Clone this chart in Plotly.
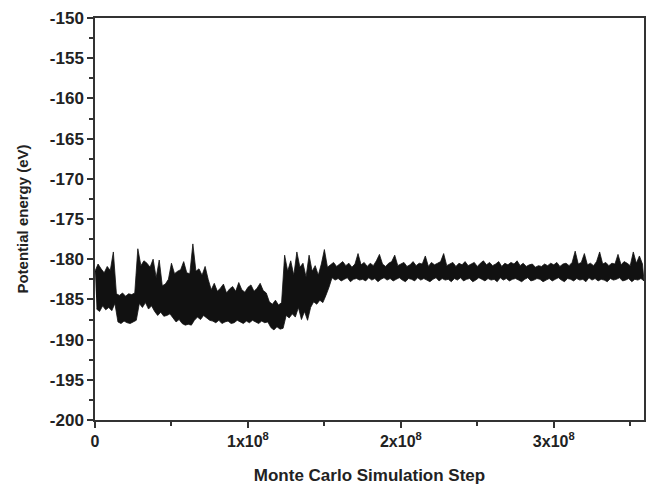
import plotly.graph_objects as go

# Sampling step of the envelope readings (MC steps)
step = 2e6

# Upper and lower envelope of the potential-energy trace (eV), read per step
upper = [
    -181.5, -180.6, -181.2, -181.7, -180.9, -181.4, -179.1,
    -184.3, -184.5, -184.2, -184.6, -184.3, -184.4, -184.2,
    -178.7, -180.8, -180.2, -180.5, -181.0,
    -180.0, -182.3, -180.1, -183.3, -183.1, -182.5,
    -180.5, -181.8, -181.5, -181.3, -180.3, -181.7,
    -181.8, -178.1, -181.5, -181.2, -182.0, -180.9, -182.5,
    -183.8, -183.0, -184.0, -183.6, -183.1, -184.2, -183.7, -183.4, -184.0, -182.9,
    -183.8, -184.1, -183.5, -183.2, -184.0, -183.6, -183.0, -183.9, -184.2,
    -185.3, -185.6, -185.1, -185.7, -185.4,
    -179.5, -181.5, -180.2, -182.0, -179.1, -181.0, -180.5, -182.2, -179.5, -181.5,
    -180.8, -182.0, -180.6, -178.8, -181.0,
    -180.7, -180.4, -180.9, -180.6, -180.3, -180.8, -180.5, -181.0, -180.6, -179.3,
    -180.7, -180.4, -180.9, -180.5, -180.8, -180.2, -179.4, -180.6, -180.9, -180.5,
    -180.3, -179.5, -180.8, -180.6, -180.4, -180.9, -180.7, -180.3, -180.8, -180.5,
    -180.6, -179.6, -180.9, -180.4, -180.7, -180.5, -180.3, -179.3, -180.8, -180.6,
    -180.4, -180.9, -180.5, -180.7, -180.3, -180.8, -180.6, -180.4, -180.9, -180.5,
    -180.2, -180.7, -180.4, -180.8, -180.6, -180.3, -180.9, -180.5, -180.7, -180.4,
    -180.6, -180.2, -180.8, -180.5, -180.9, -180.7, -180.6, -181.0, -180.8, -180.9,
    -180.6, -180.8, -180.5, -180.7, -180.4, -180.9, -180.6, -180.5, -180.8, -180.4,
    -179.0, -180.6, -180.4, -179.3, -180.7, -180.5, -180.8, -180.3, -179.1, -180.6,
    -180.4, -180.8, -180.5, -180.6, -179.4, -180.7, -180.3, -180.5, -180.8, -179.1,
    -180.5, -179.6, -180.6,
]
lower = [
    -186.2, -186.5, -185.8, -186.3, -186.0, -186.4, -185.5,
    -187.8, -188.0, -187.7, -187.9, -188.0, -187.8, -187.6,
    -185.5, -186.0, -185.4, -186.2, -185.8,
    -186.5, -187.0, -186.6, -187.1, -187.0, -186.8,
    -187.3, -187.8, -187.5, -188.0, -188.2, -188.1,
    -188.2, -187.6, -187.2, -187.5, -187.0, -187.3, -187.6,
    -187.7, -187.9, -187.6, -188.0, -187.8, -187.7, -188.0, -187.9, -187.6, -187.8,
    -188.0, -187.7, -187.9, -187.6, -187.8, -188.0, -187.7, -187.9, -187.8,
    -188.5, -188.8, -188.4, -188.7, -188.6,
    -187.0, -187.3, -186.8, -187.2, -186.0, -187.5, -186.5, -187.6, -186.0, -185.3,
    -185.6, -185.1, -185.4, -184.5, -183.5,
    -182.3, -182.6, -182.4, -182.7, -182.5, -182.3, -182.8, -182.5, -182.4, -182.6,
    -182.5, -182.7, -182.3, -182.6, -182.4, -182.8, -182.5, -182.3, -182.6, -182.4,
    -182.7, -182.5, -182.3, -182.6, -182.8, -182.4, -182.5, -182.7, -182.3, -182.6,
    -182.4, -182.6, -182.8, -182.5, -182.3, -182.7, -182.4, -182.6, -182.5, -182.8,
    -182.4, -182.6, -182.3, -182.7, -182.5, -182.4, -182.8, -182.6, -182.3, -182.5,
    -182.7, -182.4, -182.6, -182.5, -182.8, -182.3, -182.6, -182.4, -182.7, -182.5,
    -182.4, -182.6, -182.8, -182.5, -182.3, -182.7, -182.6, -182.4, -182.5, -182.8,
    -182.6, -182.4, -182.7, -182.5, -182.3, -182.6, -182.8, -182.4, -182.5, -182.7,
    -182.4, -182.6, -182.5, -182.8, -182.3, -182.6, -182.4, -182.7, -182.5, -182.6,
    -182.8, -182.4, -182.6, -182.5, -182.3, -182.7, -182.6, -182.4, -182.8, -182.5,
    -182.6, -182.4, -182.7,
]

x_tick_vals = [0, 1e8, 2e8, 3e8]
x_tick_text = ["0", "1x10<sup>8</sup>", "2x10<sup>8</sup>", "3x10<sup>8</sup>"]
y_tick_vals = [-200, -195, -190, -185, -180, -175, -170, -165, -160, -155, -150]
y_tick_text = ["-200", "-195", "-190", "-185", "-180", "-175", "-170",
               "-165", "-160", "-155", "-150"]

# Filled band of the fluctuating trace: upper envelope forward, lower back
x_up = [i * step for i in range(len(upper))]
x_lo = [i * step + step / 2 for i in range(len(lower))]
xs = x_up + x_lo[::-1]
ys = upper + lower[::-1]

fig = go.Figure()
fig.add_trace(go.Scatter(x=xs, y=ys, mode="lines", fill="toself",
                         fillcolor="#111111",
                         line=dict(color="#111111", width=0.8, simplify=False),
                         showlegend=False, hoverinfo="skip"))

font_fam = "Liberation Sans, Arial, sans-serif"
axis_col = "#333333"
fig.update_layout(
    width=648, height=486,
    margin=dict(l=95, r=4, t=18, b=66),
    paper_bgcolor="white", plot_bgcolor="white",
    font=dict(family=font_fam, color="#222222"),
    xaxis=dict(
        range=[0, 3.59e8], tickmode="array", tickvals=x_tick_vals, ticktext=x_tick_text,
        ticks="outside", ticklen=6, tickwidth=1.5, tickcolor=axis_col,
        showline=True, linecolor=axis_col, linewidth=1.5, mirror=True,
        showgrid=False, zeroline=False, automargin=False,
        tickfont=dict(size=16, family=font_fam, weight="bold"),
        minor=dict(tickmode="linear", tick0=0, dtick=5e7, ticks="outside",
                   ticklen=4, tickwidth=1.5, tickcolor=axis_col, showgrid=False),
        title=dict(text="Monte Carlo Simulation Step",
                   font=dict(size=17, family=font_fam, weight="bold"), standoff=20),
    ),
    yaxis=dict(
        range=[-200, -150], tickmode="array", tickvals=y_tick_vals, ticktext=y_tick_text,
        ticks="outside", ticklen=6, tickwidth=1.5, tickcolor=axis_col,
        showline=True, linecolor=axis_col, linewidth=1.5, mirror=True,
        showgrid=False, zeroline=False, automargin=False,
        tickfont=dict(size=17, family=font_fam, weight="bold"),
        minor=dict(tickmode="linear", tick0=-200, dtick=2.5, ticks="outside",
                   ticklen=4, tickwidth=1.5, tickcolor=axis_col, showgrid=False),
        title=dict(text="Potential energy (eV)",
                   font=dict(size=15, family=font_fam, weight="bold"), standoff=18),
    ),
)

fig.write_html("out.html", config={"displayModeBar": False},
               post_script="document.body.style.margin='0';"
                           "document.body.style.overflow='hidden';")
